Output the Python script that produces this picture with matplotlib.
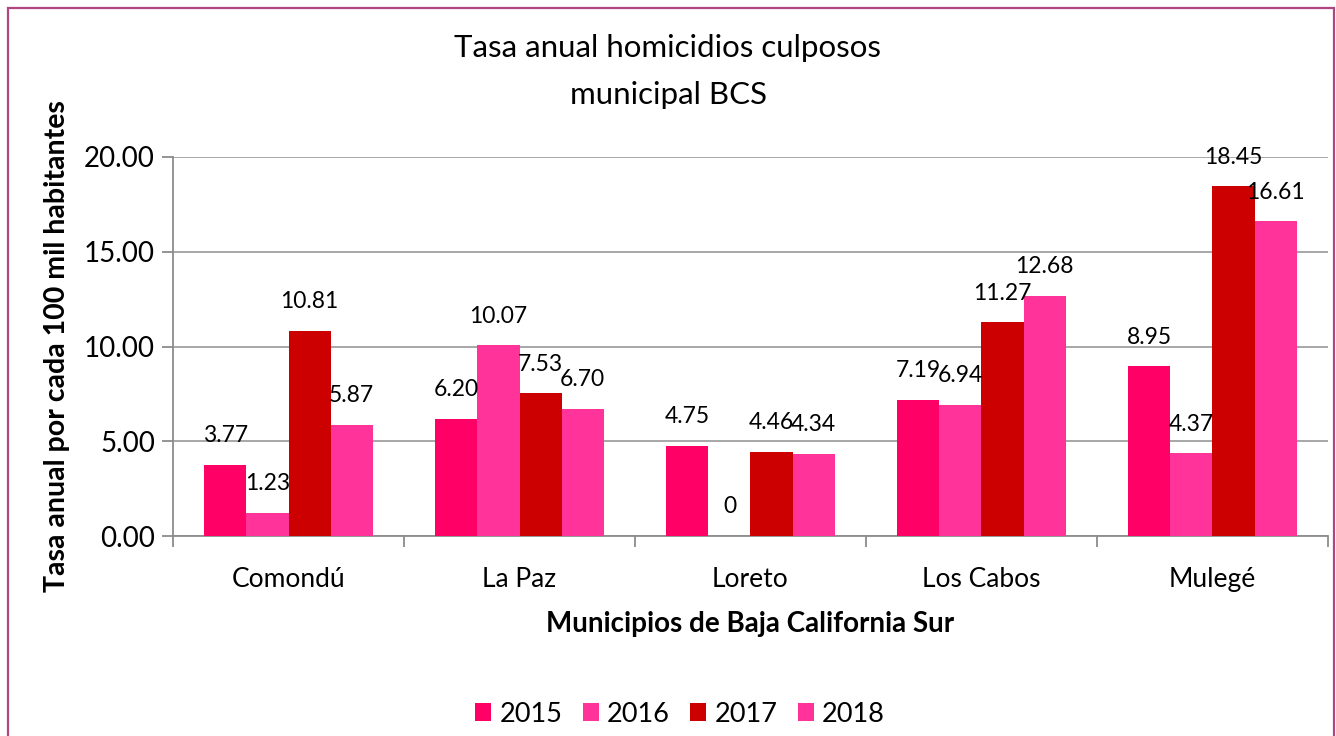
import matplotlib
matplotlib.use("Agg")
import matplotlib.pyplot as plt
from matplotlib.patches import Rectangle
import numpy as np

plt.rcParams['font.family'] = ['Lato', 'DejaVu Sans']

municipios = ["Comondú", "La Paz", "Loreto", "Los Cabos", "Mulegé"]
years = ["2015", "2016", "2017", "2018"]
v2015 = [3.77, 6.20, 4.75, 7.19, 8.95]
v2016 = [1.23, 10.07, 0.0, 6.94, 4.37]
v2017 = [10.81, 7.53, 4.46, 11.27, 18.45]
v2018 = [5.87, 6.70, 4.34, 12.68, 16.61]
series = [v2015, v2016, v2017, v2018]
colors = ["#FF0066", "#FF3399", "#CC0000", "#FF3399"]
yticks = [0, 5, 10, 15, 20]

fig = plt.figure(figsize=(13.36, 7.36), dpi=100)
ax = fig.add_axes([0.1295, 0.2717, 0.8645, 0.515])

# frame around chart
fig.patches.append(Rectangle((8/1336, -0.01), (1334-8)/1336, 1 - 8/736 + 0.01,
                             transform=fig.transFigure, fill=False,
                             edgecolor="#B0457F", linewidth=1.6, zorder=0))

x = np.arange(len(municipios))
w = 0.182
for i, (vals, c, yr) in enumerate(zip(series, colors, years)):
    pos = x + (i - 1.5) * w
    ax.bar(pos, vals, width=w, color=c, label=yr, zorder=3)
    for px, v in zip(pos, vals):
        lab = "0" if v == 0 else f"{v:.2f}"
        ax.annotate(lab, (px, v), xytext=(0, 21), textcoords="offset points",
                    ha="center", va="center", fontsize=16.5, color="black", zorder=4)

ax.set_xlim(-0.5, len(municipios) - 0.5)
ax.set_ylim(0, 20)
ax.set_yticks(yticks)
ax.set_yticklabels([f"{t:.2f}" for t in yticks], fontsize=20)
ax.set_xticks(x)
ax.set_xticklabels(municipios, fontsize=19)
ax.set_xticks(np.arange(-0.5, len(municipios), 1), minor=True)
ax.tick_params(axis="x", which="major", length=0, pad=22)
ax.tick_params(axis="x", which="minor", length=8, color="#8C8C8C", width=1.3)
ax.tick_params(axis="y", length=8, color="#8C8C8C", width=1.3, pad=5)
ax.yaxis.grid(True, color="#A0A0A0", linewidth=1.3, zorder=0)
ax.set_axisbelow(True)
for s in ["top", "right"]:
    ax.spines[s].set_visible(False)
for s in ["left", "bottom"]:
    ax.spines[s].set_color("#8C8C8C")
    ax.spines[s].set_linewidth(1.3)

ax.set_xlabel("Municipios de Baja California Sur", fontsize=20, fontweight="bold", labelpad=14)
ax.set_ylabel("Tasa anual por cada 100 mil habitantes", fontsize=20.5, fontweight="bold", labelpad=10)

fig.text(0.5, 1 - 48/736, "Tasa anual homicidios culposos", ha="center", va="center", fontsize=22.5)
fig.text(0.5, 1 - 95/736, "municipal BCS", ha="center", va="center", fontsize=22.5)

leg = fig.legend(loc="center", bbox_to_anchor=(0.509, 1 - 714/736), ncol=4, frameon=False,
                 fontsize=19.5, handlelength=0.6, handleheight=0.6, handletextpad=0.3,
                 columnspacing=0.75)

fig.savefig("out.png", dpi=100)
